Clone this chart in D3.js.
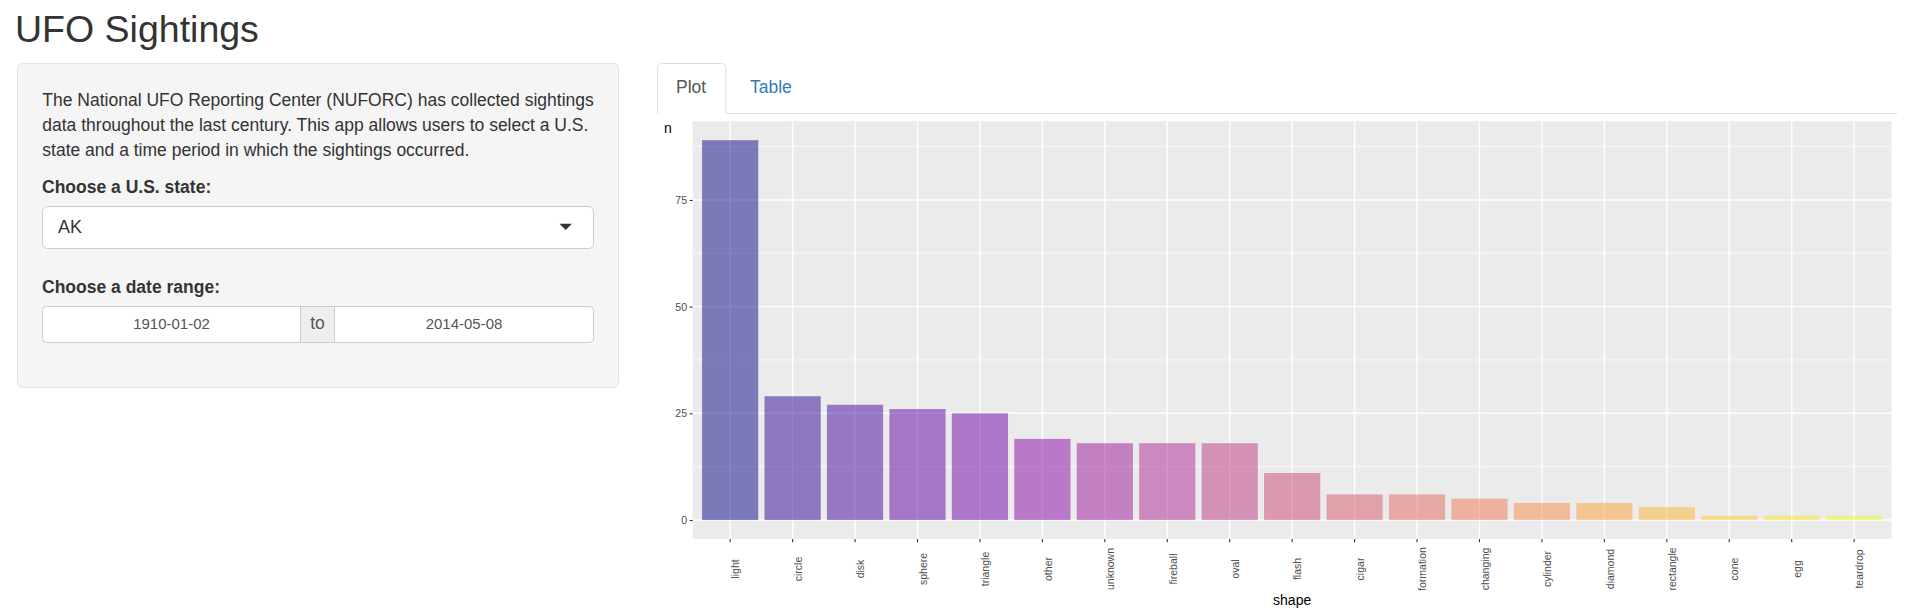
<!DOCTYPE html>
<meta charset="utf-8">
<script src="https://d3js.org/d3.v7.min.js"></script>
<style>
  body { margin: 0; background: #fff; }
  svg text { font-family: "Liberation Sans", Arial, Helvetica, sans-serif; }
</style>
<div id="my_dataviz"></div>
<script>

// counts of sightings by shape (AK, 1910-01-02 to 2014-05-08)
var shapes = ["light", "circle", "disk", "sphere", "triangle", "other", "unknown", "fireball", "oval",
              "flash", "cigar", "formation", "changing", "cylinder", "diamond", "rectangle", "cone", "egg", "teardrop"];
var counts = [89, 29, 27, 26, 25, 19, 18, 18, 18, 11, 6, 6, 5, 4, 4, 3, 1, 1, 1];
var yTicks = [0, 25, 50, 75];
var yMinor = [12.5, 37.5, 62.5, 87.5];

var introLines = [
  "The National UFO Reporting Center (NUFORC) has collected sightings",
  "data throughout the last century. This app allows users to select a U.S.",
  "state and a time period in which the sightings occurred."
];

var W = 1907, H = 614;
var svg = d3.select("#my_dataviz")
  .append("svg")
    .attr("width", W)
    .attr("height", H);

// ---- page header + sidebar ----
svg.append("text")
  .attr("x", 15).attr("y", 42)
  .style("font-size", "37.5px").style("fill", "#333")
  .text("UFO Sightings");

svg.append("rect")
  .attr("x", 17.5).attr("y", 63.5).attr("width", 601).attr("height", 324)
  .attr("rx", 5)
  .style("fill", "#f5f5f5").style("stroke", "#e3e3e3");

svg.selectAll(".intro")
  .data(introLines)
  .enter().append("text")
    .attr("class", "intro")
    .attr("x", 42.3)
    .attr("y", function(d, i) { return 106 + i * 25; })
    .style("font-size", "17.5px").style("fill", "#333")
    .text(function(d) { return d; });

svg.append("text")
  .attr("x", 42).attr("y", 192.5)
  .style("font-size", "17.5px").style("font-weight", "bold").style("fill", "#333")
  .text("Choose a U.S. state:");

svg.append("rect")
  .attr("x", 42.5).attr("y", 206.5).attr("width", 551).attr("height", 42).attr("rx", 5)
  .style("fill", "#fff").style("stroke", "#ccc");
svg.append("text")
  .attr("x", 58).attr("y", 233)
  .style("font-size", "18px").style("fill", "#333")
  .text("AK");
svg.append("path")
  .attr("d", "M559.5,223.7 L571.9,223.7 L565.7,229.9 Z")
  .style("fill", "#333");

svg.append("text")
  .attr("x", 42).attr("y", 292.5)
  .style("font-size", "17.5px").style("font-weight", "bold").style("fill", "#333")
  .text("Choose a date range:");

// date range inputs
svg.append("rect")
  .attr("x", 42.5).attr("y", 306.5).attr("width", 551).attr("height", 36).attr("rx", 4)
  .style("fill", "#fff").style("stroke", "#ccc");
svg.append("rect")
  .attr("x", 300.5).attr("y", 306.5).attr("width", 34).attr("height", 36)
  .style("fill", "#eee").style("stroke", "#ccc");
svg.append("text")
  .attr("x", 171.5).attr("y", 329.3).attr("text-anchor", "middle")
  .style("font-size", "15px").style("fill", "#555")
  .text("1910-01-02");
svg.append("text")
  .attr("x", 317.5).attr("y", 329.3).attr("text-anchor", "middle")
  .style("font-size", "17.5px").style("fill", "#555")
  .text("to");
svg.append("text")
  .attr("x", 464).attr("y", 329.3).attr("text-anchor", "middle")
  .style("font-size", "15px").style("fill", "#555")
  .text("2014-05-08");

// ---- tabs ----
svg.append("line")
  .attr("x1", 726).attr("x2", 1897).attr("y1", 113.5).attr("y2", 113.5)
  .style("stroke", "#ddd");
svg.append("path")
  .attr("d", "M657.5,114 L657.5,68.5 Q657.5,63.5 662.5,63.5 L721,63.5 Q726,63.5 726,68.5 L726,114")
  .style("fill", "#fff").style("stroke", "#ddd");
svg.append("text")
  .attr("x", 676).attr("y", 93.3)
  .style("font-size", "17.5px").style("fill", "#555")
  .text("Plot");
svg.append("text")
  .attr("x", 750).attr("y", 93.3)
  .style("font-size", "17.5px").style("fill", "#337ab7")
  .text("Table");

// ---- ggplot-like bar chart ----
var panel = {left: 692.7, right: 1891.6, top: 121.2, bottom: 539};

var x = d3.scaleBand()
  .domain(shapes)
  .range([panel.left, panel.right])
  .paddingInner(0.1)
  .paddingOuter(0.15);

var maxN = d3.max(counts);
var pad = maxN * 0.05;
var y = d3.scaleLinear()
  .domain([-pad, maxN + pad])
  .range([panel.bottom, panel.top]);

var color = function(i) { return d3.interpolatePlasma(i / (shapes.length - 1)); };

var plot = svg.append("g");

plot.append("rect")
  .attr("x", panel.left).attr("y", panel.top)
  .attr("width", panel.right - panel.left).attr("height", panel.bottom - panel.top)
  .style("fill", "#EBEBEB");

// minor grid
plot.selectAll(".minor")
  .data(yMinor)
  .enter().append("line")
    .attr("x1", panel.left).attr("x2", panel.right)
    .attr("y1", function(d) { return y(d); }).attr("y2", function(d) { return y(d); })
    .style("stroke", "#fff").style("stroke-width", 0.7);

// major grid
plot.selectAll(".hmajor")
  .data(yTicks)
  .enter().append("line")
    .attr("x1", panel.left).attr("x2", panel.right)
    .attr("y1", function(d) { return y(d); }).attr("y2", function(d) { return y(d); })
    .style("stroke", "#fff").style("stroke-width", 1.4);
plot.selectAll(".vmajor")
  .data(shapes)
  .enter().append("line")
    .attr("x1", function(d) { return x(d) + x.bandwidth() / 2; })
    .attr("x2", function(d) { return x(d) + x.bandwidth() / 2; })
    .attr("y1", panel.top).attr("y2", panel.bottom)
    .style("stroke", "#fff").style("stroke-width", 1.4);

// bars
var bars = shapes.map(function(s, i) { return {shape: s, n: counts[i], i: i}; });
plot.selectAll(".bar")
  .data(bars)
  .enter().append("rect")
    .attr("x", function(d) { return x(d.shape); })
    .attr("y", function(d) { return y(d.n); })
    .attr("width", x.bandwidth())
    .attr("height", function(d) { return y(0) - y(d.n); })
    .style("fill", function(d) { return color(d.i); })
    .style("fill-opacity", 0.5);

// y axis
var yAxis = plot.append("g")
  .attr("transform", "translate(" + panel.left + ",0)")
  .call(d3.axisLeft(y).tickValues(yTicks).tickSize(3).tickPadding(2.7));
yAxis.select(".domain").remove();
yAxis.selectAll(".tick line").style("stroke", "#333").style("stroke-width", 1.1);
yAxis.selectAll(".tick text")
  .style("fill", "#4D4D4D").style("font-size", "10.5px")
  .style("font-family", "'Liberation Sans', Arial, sans-serif");

// x axis
var xAxis = plot.append("g")
  .attr("transform", "translate(0," + panel.bottom + ")")
  .call(d3.axisBottom(x).tickSize(3.3));
xAxis.select(".domain").remove();
xAxis.selectAll(".tick line").style("stroke", "#333").style("stroke-width", 1.1);
xAxis.selectAll(".tick text")
  .attr("transform", "rotate(-90)")
  .attr("x", -30).attr("y", 0).attr("dy", "0.88em")
  .style("text-anchor", "middle")
  .style("fill", "#4D4D4D").style("font-size", "10.5px")
  .style("font-family", "'Liberation Sans', Arial, sans-serif");

// axis titles
plot.append("text")
  .attr("x", 664).attr("y", 132.5)
  .style("font-size", "14px").style("fill", "#000")
  .text("n");
plot.append("text")
  .attr("x", (panel.left + panel.right) / 2).attr("y", 604.5)
  .attr("text-anchor", "middle")
  .style("font-size", "14px").style("fill", "#000")
  .text("shape");

</script>
